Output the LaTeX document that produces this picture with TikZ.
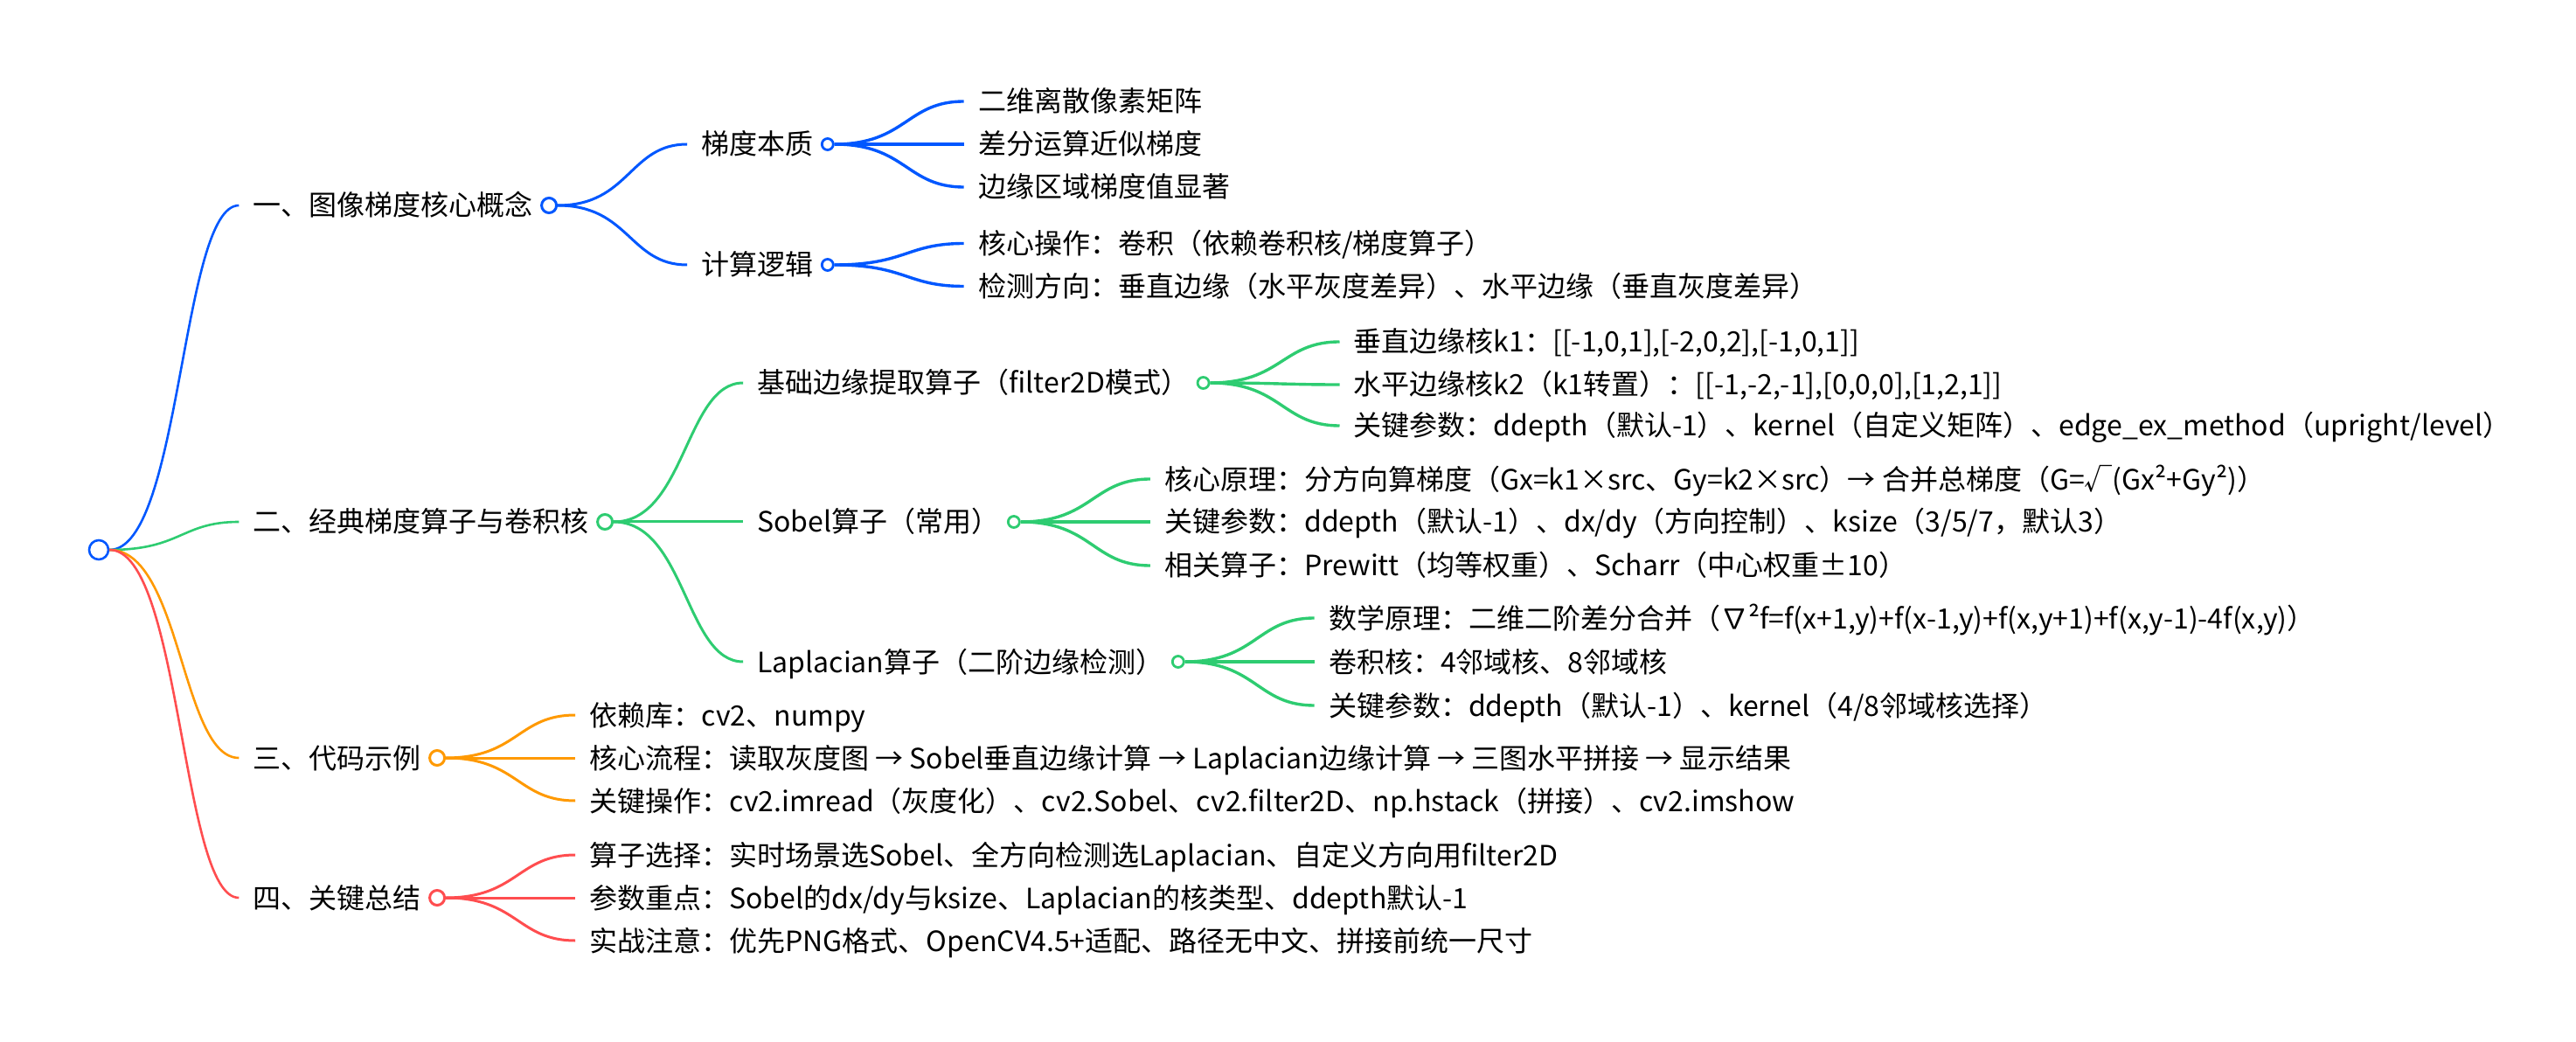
\documentclass[tikz,border=0pt]{standalone}
\usepackage{fontspec}
\setmainfont{Noto Sans CJK SC}
\usetikzlibrary{positioning,calc}
\definecolor{mmblue}{RGB}{0,87,255}
\definecolor{mmgreen}{RGB}{46,204,113}
\definecolor{mmorange}{RGB}{255,153,0}
\definecolor{mmred}{RGB}{255,77,79}

\begin{document}
\begin{tikzpicture}[x=1pt, y=1pt, node distance=82pt,
  topic/.style={font=\fontsize{16pt}{19pt}\selectfont, inner sep=0pt, text height=14pt, text depth=2pt},
  ring/.style={circle, draw=#1, fill=white, line width=1.5pt, minimum size=8.5pt, inner sep=0pt},
  ringsm/.style={ring=#1, minimum size=6.5pt, line width=1.4pt},
  branch/.style={draw=#1, line width=1.5pt, shorten >=8pt,
    to path={let \p1=(\tikztostart), \p2=(\tikztotarget) in
      .. controls ({(\x1+\x2)/2},\y1) and ({(\x1+\x2)/2},\y2) .. (\p2)}}]
  \useasboundingbox (0,0) rectangle (1473.5,595.5);
  \node[ring=mmblue, minimum size=11pt, line width=1.3pt] (root) at (56.5,281) {};

  \node[topic, right=of root, yshift=197pt] (concept) {一、图像梯度核心概念};
  \node[ring=mmblue, right=4pt of concept] (conceptring) {};
  \node[topic, right=of root, yshift=16pt] (operators) {二、经典梯度算子与卷积核};
  \node[ring=mmgreen, right=4pt of operators] (operatorsring) {};
  \node[topic, right=of root, yshift=-119pt] (code) {三、代码示例};
  \node[ring=mmorange, right=4pt of code] (codering) {};
  \node[topic, right=of root, yshift=-199pt] (summary) {四、关键总结};
  \node[ring=mmred, right=4pt of summary] (summaryring) {};

  \node[topic, right=of conceptring, yshift=35pt] (essence) {梯度本质};
  \node[ringsm=mmblue, right=4pt of essence] (essencering) {};
  \node[topic, right=of conceptring, yshift=-34pt] (logic) {计算逻辑};
  \node[ringsm=mmblue, right=4pt of logic] (logicring) {};
  \node[topic, right=of essencering, yshift=24.5pt] (matrix) {二维离散像素矩阵};
  \node[topic, right=of essencering] (diff) {差分运算近似梯度};
  \node[topic, right=of essencering, yshift=-24.5pt] (edgeval) {边缘区域梯度值显著};
  \node[topic, right=of logicring, yshift=12.25pt] (conv) {核心操作：卷积（依赖卷积核/梯度算子）};
  \node[topic, right=of logicring, yshift=-12.25pt] (direction) {检测方向：垂直边缘（水平灰度差异）、水平边缘（垂直灰度差异）};

  \node[topic, right=of operatorsring, yshift=79.5pt] (basic) {基础边缘提取算子（filter2D模式）};
  \node[ringsm=mmgreen, right=4pt of basic] (basicring) {};
  \node[topic, right=of operatorsring] (sobel) {Sobel算子（常用）};
  \node[ringsm=mmgreen, right=4pt of sobel] (sobelring) {};
  \node[topic, right=of operatorsring, yshift=-80pt] (laplace) {Laplacian算子（二阶边缘检测）};
  \node[ringsm=mmgreen, right=4pt of laplace] (laplacering) {};
  \node[topic, right=of basicring, yshift=23.5pt] (kone) {垂直边缘核k1：[[-1,0,1],[-2,0,2],[-1,0,1]]};
  \node[topic, right=of basicring, yshift=-1pt] (ktwo) {水平边缘核k2（k1转置）：[[-1,-2,-1],[0,0,0],[1,2,1]]};
  \node[topic, right=of basicring, yshift=-24.5pt] (basicparam) {关键参数：ddepth（默认-1）、kernel（自定义矩阵）、edge\_ex\_method（upright/level）};
  \node[topic, right=of sobelring, yshift=24.5pt] (sobelrule) {核心原理：分方向算梯度（Gx=k1×src、Gy=k2×src）→ 合并总梯度（G=√(Gx²+Gy²)）};
  \node[topic, right=of sobelring] (sobelparam) {关键参数：ddepth（默认-1）、dx/dy（方向控制）、ksize（3/5/7，默认3）};
  \node[topic, right=of sobelring, yshift=-25pt] (related) {相关算子：Prewitt（均等权重）、Scharr（中心权重±10）};
  \node[topic, right=of laplacering, yshift=25pt] (laprule) {数学原理：二维二阶差分合并（∇²f=f(x+1,y)+f(x-1,y)+f(x,y+1)+f(x,y-1)-4f(x,y)）};
  \node[topic, right=of laplacering] (lapkernel) {卷积核：4邻域核、8邻域核};
  \node[topic, right=of laplacering, yshift=-25pt] (lapparam) {关键参数：ddepth（默认-1）、kernel（4/8邻域核选择）};

  \node[topic, right=of codering, yshift=24.5pt] (libs) {依赖库：cv2、numpy};
  \node[topic, right=of codering] (flow) {核心流程：读取灰度图 → Sobel垂直边缘计算 → Laplacian边缘计算 → 三图水平拼接 → 显示结果};
  \node[topic, right=of codering, yshift=-24.5pt] (ops) {关键操作：cv2.imread（灰度化）、cv2.Sobel、cv2.filter2D、np.hstack（拼接）、cv2.imshow};

  \node[topic, right=of summaryring, yshift=24.5pt] (choice) {算子选择：实时场景选Sobel、全方向检测选Laplacian、自定义方向用filter2D};
  \node[topic, right=of summaryring] (focus) {参数重点：Sobel的dx/dy与ksize、Laplacian的核类型、ddepth默认-1};
  \node[topic, right=of summaryring, yshift=-24.5pt] (notes) {实战注意：优先PNG格式、OpenCV4.5+适配、路径无中文、拼接前统一尺寸};

  \draw[branch=mmblue, line width=1.3pt] (root.east) to (concept.west);
  \draw[branch=mmgreen, line width=1.3pt] (root.east) to (operators.west);
  \draw[branch=mmorange, line width=1.3pt] (root.east) to (code.west);
  \draw[branch=mmred, line width=1.3pt] (root.east) to (summary.west);

  \foreach \leaf in {essence,logic} \draw[branch=mmblue] (conceptring.east) to (\leaf.west);
  \foreach \leaf in {matrix,diff,edgeval} \draw[branch=mmblue, line width=1.7pt] (essencering.east) to (\leaf.west);
  \foreach \leaf in {conv,direction} \draw[branch=mmblue, line width=1.7pt] (logicring.east) to (\leaf.west);
  \foreach \leaf in {basic,sobel,laplace} \draw[branch=mmgreen] (operatorsring.east) to (\leaf.west);
  \foreach \leaf in {kone,ktwo,basicparam} \draw[branch=mmgreen, line width=1.7pt] (basicring.east) to (\leaf.west);
  \foreach \leaf in {sobelrule,sobelparam,related} \draw[branch=mmgreen, line width=1.7pt] (sobelring.east) to (\leaf.west);
  \foreach \leaf in {laprule,lapkernel,lapparam} \draw[branch=mmgreen, line width=1.7pt] (laplacering.east) to (\leaf.west);
  \foreach \leaf in {libs,flow,ops} \draw[branch=mmorange] (codering.east) to (\leaf.west);
  \foreach \leaf in {choice,focus,notes} \draw[branch=mmred] (summaryring.east) to (\leaf.west);
\end{tikzpicture}
\end{document}
